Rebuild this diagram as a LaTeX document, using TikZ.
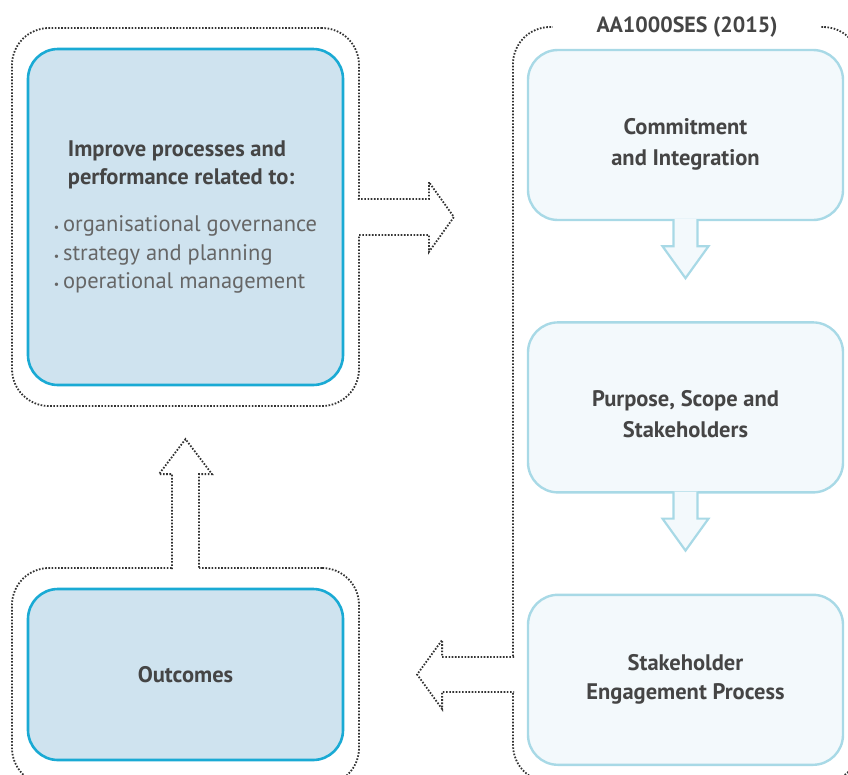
\documentclass[tikz,border=0pt]{standalone}
\usepackage{fontspec}
\setmainfont{PT Sans}
\usetikzlibrary{positioning}

\definecolor{boxblue}{HTML}{CFE3EF}
\definecolor{edgeblue}{HTML}{1AAAD4}
\definecolor{paleblue}{HTML}{F3F9FC}
\definecolor{paleedge}{HTML}{A8D9E6}
\definecolor{txtgray}{HTML}{454545}
\definecolor{listgray}{HTML}{666666}

\tikzset{
  frame/.style={draw=black!80, line width=1.8pt, dash pattern=on 1.6pt off 1.6pt,
    rounded corners=37pt, inner sep=0pt},
  outcomebox/.style={draw=edgeblue, line width=2.6pt, fill=boxblue, rounded corners=30pt,
    minimum width=315pt, text=txtgray, align=center,
    font=\bfseries\fontsize{22.5}{28}\selectfont},
  sesbox/.style={draw=paleedge, line width=2.4pt, fill=paleblue, rounded corners=30pt,
    minimum width=315pt, minimum height=170pt, text=txtgray, align=center,
    font=\bfseries\fontsize{22.5}{31}\selectfont},
  hollowarrow/.style={draw=black!80, line width=1.8pt, dash pattern=on 1.6pt off 1.6pt,
    fill=white},
  flowarrow/.style={draw=paleedge, line width=2.2pt, fill=paleblue},
}

\begin{document}
\begin{tikzpicture}[x=1pt,y=-1pt]
\useasboundingbox (0,0) rectangle (848,774);

% dotted frames
\node[frame, minimum width=347pt, minimum height=378pt] (improveframe) at (185.5,217) {};
\node[frame, minimum width=347pt, minimum height=217pt] (outcomeframe) at (185.5,676.5) {};
\node[frame, minimum width=347pt, minimum height=755pt] (sesframe) at (686.5,404.5) {};
\node[fill=white, minimum width=268pt, minimum height=14pt, inner sep=0pt, text=txtgray,
  font=\bfseries\fontsize{22}{22}\selectfont] (title) at (687,27) {AA1000SES (2015)};

% hollow arrows between the frames
\draw[hollowarrow] ([shift={(-2,-18)}]improveframe.east) -- ++(71,0) -- ++(0,-17)
  -- ++(25,35) -- ++(-25,35) -- ++(0,-17) -- ++(-71,0);
\draw[hollowarrow] ([shift={(-13.5,2)}]outcomeframe.north) -- ++(0,-95) -- ++(-13,0)
  -- ++(26.5,-35) -- ++(26.5,35) -- ++(-13,0) -- ++(0,95);

% boxes
\node[outcomebox, minimum height=336pt, align=left] (improve) at (185.5,217)
  {\hspace*{14pt}Improve processes and\\
   \hspace*{14pt}performance related to:\\[19pt]
   {\mdseries\color{listgray}{\fontsize{12}{12}\selectfont\textbullet}\,organisational governance}\\[1pt]
   {\mdseries\color{listgray}{\fontsize{12}{12}\selectfont\textbullet}\,strategy and planning}\\
   {\mdseries\color{listgray}{\fontsize{12}{12}\selectfont\textbullet}\,operational management}};
\node[outcomebox, minimum height=171pt] (outcome) at (185.5,674.5) {Outcomes};

\node[sesbox, text height=66pt] (commit) at (685.5,135) {Commitment\\and Integration};
\node[sesbox, text height=61pt, below=100pt of commit] (scope) {Purpose, Scope and\\Stakeholders};
\node[sesbox, below=100pt of scope, font=\bfseries\fontsize{22.5}{29}\selectfont] (engage)
  {Stakeholder\\Engagement Process};

\foreach \src in {commit,scope}
  \draw[flowarrow] ([shift={(-12,-2)}]\src.south) -- ++(0,27) -- ++(-11,0)
    -- ++(23,32) -- ++(23,-32) -- ++(-11,0) -- ++(0,-27);

\coordinate (backin) at (sesframe.west |- outcome);
\draw[hollowarrow] ([shift={(2,-17.5)}]backin) -- ++(-72,0) -- ++(0,-17)
  -- ++(-25,34.5) -- ++(25,34.5) -- ++(0,-17) -- ++(72,0);
\end{tikzpicture}
\end{document}
